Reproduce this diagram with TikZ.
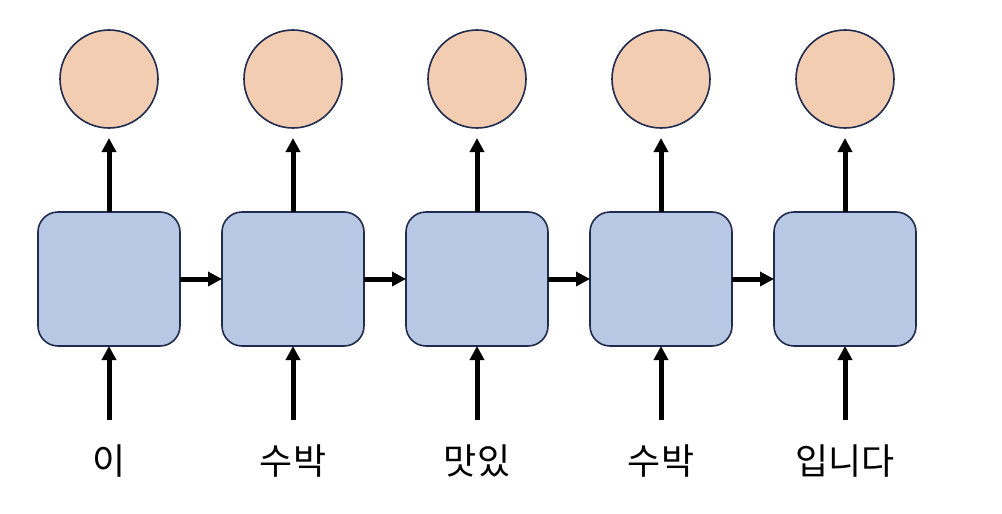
\documentclass[tikz,border=0pt]{standalone}
\usepackage{fontspec}
\newfontfamily\kofont{Noto Sans CJK KR}
\usetikzlibrary{positioning,arrows.meta,calc}
\definecolor{cellblue}{HTML}{B8C7E4}
\definecolor{outpeach}{HTML}{F2CDB1}
\definecolor{edgenavy}{HTML}{1F2B4F}
\tikzset{
  cell/.style={draw=edgenavy,line width=1.6pt,fill=cellblue,rounded corners=20pt,
               minimum width=142pt,minimum height=134pt,inner sep=0pt,outer sep=0pt},
  outc/.style={circle,draw=edgenavy,line width=1.6pt,fill=outpeach,
               minimum size=98pt,inner sep=0pt,outer sep=0pt},
  ln/.style={-{Triangle[length=14pt,width=14pt]},line width=5pt},
  word/.style={font=\kofont\fontsize{36}{40}\selectfont,inner sep=0pt},
}
\begin{document}
\begin{tikzpicture}
\useasboundingbox (0,0) rectangle (1002pt,-514pt);

\node[cell] (b1) at (109pt,-279pt) {};
\node[cell,right=42pt of b1] (b2) {};
\node[cell,right=42pt of b2] (b3) {};
\node[cell,right=42pt of b3] (b4) {};
\node[cell,right=42pt of b4] (b5) {};

\foreach \i/\w in {1/이,2/수박,3/맛있,4/수박,5/입니다}{
  \node[outc,above=84pt of b\i] (o\i) {};
  \draw[ln,shorten >=10pt] (b\i.north) -- (o\i.south);
  \coordinate[below=74pt of b\i.south] (in\i);
  \draw[ln] (in\i) -- (b\i.south);
  \node[word] (w\i) at ($(in\i)+(0,-41pt)$) {\w};
}

\foreach \i/\j in {1/2,2/3,3/4,4/5}
  \draw[ln] (b\i.east) -- (b\j.west);

\end{tikzpicture}
\end{document}
